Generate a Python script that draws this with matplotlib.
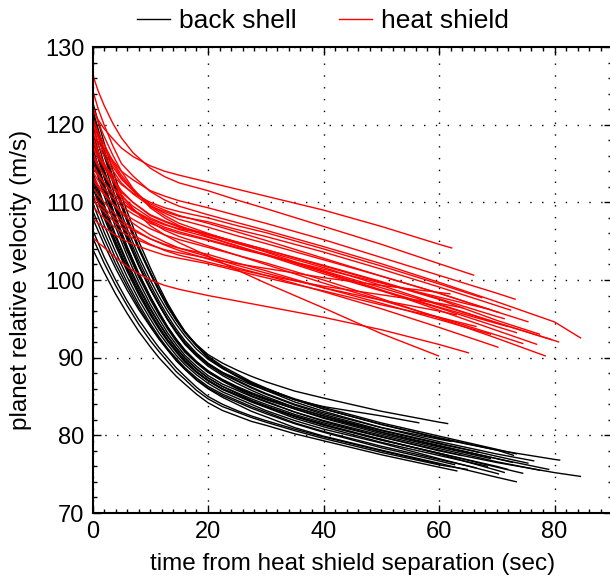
import matplotlib
matplotlib.use("Agg")
import matplotlib.pyplot as plt
from matplotlib.ticker import MultipleLocator

plt.rcParams["font.family"] = ["Liberation Sans", "DejaVu Sans"]

black_grid = [0, 2, 4, 6, 8, 10, 11.5, 13, 14.5, 16, 18, 20, 22.5, 25, 27.5, 30, 35, 40,
              50, 60, 70, 80]
red_grid = [0, 1, 2, 3.5, 5, 7, 10, 12.5, 15, 20, 25, 30, 40, 50, 60, 70, 80]

# back shell: velocities at grid times before the end, then end point
black_vel = [
    [121, 116, 111.5, 107.5, 104, 101, 98.6, 96.5, 94.8, 93.3, 91.7, 90.4, 89.3, 88.4, 87.6, 86.9, 85.7, 84.8, 83.1, 81.7],
    [118, 113.2, 109, 105.2, 101.8, 98.8, 96.8, 94.9, 93.3, 91.9, 90.4, 89.2, 88.1, 87.3, 86.5, 85.8, 84.6, 83.7, 82.5],
    [122, 116.8, 112.2, 108, 104.3, 101, 98.8, 96.8, 95, 93.3, 91.6, 90.2, 88.9, 87.9, 86.9, 86.1, 84.6, 83.4, 81.4, 79.6, 78.1, 76.9],
    [117, 112.3, 108, 104.2, 100.8, 97.8, 95.8, 93.9, 92.3, 90.9, 89.4, 88.2, 87, 86, 85.1, 84.4, 83, 81.8, 79.8, 78, 76.5, 75.2],
    [119, 114, 109.6, 105.6, 102, 98.9, 96.8, 94.9, 93.2, 91.7, 90.2, 88.9, 87.7, 86.7, 85.8, 85, 83.6, 82.5, 80.4, 78.6, 77],
    [120, 115, 110.6, 106.6, 103.1, 100, 97.9, 96, 94.3, 92.8, 91.1, 89.8, 88.6, 87.6, 86.7, 86, 84.7, 83.6, 81.6, 79.9, 78.2],
    [116, 111.5, 107.4, 103.7, 100.4, 97.5, 95.5, 93.7, 92.1, 90.7, 89.3, 88.1, 87, 86.1, 85.3, 84.6, 83.4, 82.3, 80.4, 78.7, 77],
    [113, 108.8, 105, 101.6, 98.5, 95.8, 94, 92.3, 90.9, 89.6, 88.2, 87.1, 86, 85.2, 84.4, 83.7, 82.5, 81.4, 79.4, 77.7, 75.9],
    [114, 109.7, 105.8, 102.3, 99.2, 96.4, 94.5, 92.8, 91.3, 90, 88.6, 87.4, 86.3, 85.4, 84.5, 83.8, 82.5, 81.4, 79.5, 77.6, 75.5],
    [111, 107.1, 103.6, 100.4, 97.5, 95, 93.2, 91.7, 90.3, 89.1, 87.8, 86.7, 85.6, 84.8, 84, 83.2, 81.9, 80.8, 79, 77, 75.1],
    [108, 104.6, 101.5, 98.7, 96.2, 94, 92.4, 91, 89.6, 88.5, 87.1, 86, 84.9, 84, 83.1, 82.4, 81, 79.9, 78.1, 76.4, 74.6],
    [104, 101, 98.2, 95.7, 93.4, 91.4, 90, 88.8, 87.6, 86.6, 85.3, 84.2, 83.2, 82.5, 81.8, 81.3, 80.2, 79.3, 77.5, 75.9],
    [119, 114.2, 109.9, 106, 102.5, 99.4, 97.3, 95.4, 93.7, 92.2, 90.6, 89.3, 88.1, 87.1, 86.2, 85.4, 84, 82.9, 81, 79.5],
    [106.5, 103, 100, 97.3, 94.9, 92.8, 91.3, 90, 88.7, 87.6, 86.2, 85, 84, 83.2, 82.5, 81.9, 80.8, 79.8, 78, 76.3],
    [105.5, 102.2, 99.3, 96.7, 94.3, 92.2, 90.8, 89.5, 88.2, 87.2, 85.8, 84.7, 83.7, 83, 82.3, 81.7, 80.6, 79.6, 77.8, 76.2],
    [117, 112.3, 108.1, 104.3, 100.9, 97.9, 95.9, 94, 92.4, 91, 89.5, 88.3, 87.2, 86.3, 85.5, 84.8, 83.6, 82.5, 80.6, 78.9],
    [112, 108, 104.4, 101.1, 98.1, 95.5, 93.7, 92.1, 90.7, 89.4, 88.1, 87, 85.9, 85.1, 84.3, 83.6, 82.2, 81.1, 79.1, 77.4],
    [110, 106.2, 102.8, 99.7, 96.9, 94.4, 92.7, 91.2, 89.9, 88.7, 87.4, 86.3, 85.3, 84.5, 83.7, 83, 81.6, 80.5, 78.6, 76.9],
    [121.5, 116.4, 111.8, 107.7, 104, 100.8, 98.6, 96.6, 94.8, 93.2, 91.5, 90, 88.7, 87.6, 86.6, 85.8, 84.3, 83.1, 81, 79.2, 77.6],
    [115.5, 110.9, 106.8, 103.1, 99.8, 96.9, 95, 93.2, 91.7, 90.3, 88.9, 87.7, 86.6, 85.8, 85, 84.3, 83, 81.9, 80, 78.3, 76.6],
    [113.5, 109.3, 105.5, 102, 98.9, 96.2, 94.4, 92.7, 91.2, 89.9, 88.5, 87.4, 86.3, 85.5, 84.7, 84, 82.7, 81.6, 79.8, 78.1],
    [118.5, 113.6, 109.3, 105.4, 101.9, 98.9, 96.9, 95, 93.4, 91.9, 90.4, 89.1, 87.9, 87, 86.1, 85.3, 83.9, 82.7, 80.7, 79, 77.3],
    [109, 105.4, 102.1, 99.2, 96.5, 94.1, 92.5, 91, 89.7, 88.5, 87.2, 86.1, 85.1, 84.3, 83.5, 82.8, 81.5, 80.4, 78.4, 76.7],
    [116.5, 111.8, 107.6, 103.9, 100.6, 97.7, 95.7, 93.9, 92.3, 90.9, 89.5, 88.3, 87.1, 86.2, 85.4, 84.7, 83.4, 82.2, 80.2, 78.5],
    [123, 117.7, 113, 108.8, 105, 101.6, 99.2, 97, 95.1, 93.4, 91.6, 90, 88.7, 87.7, 86.8, 86, 84.6, 83.4, 81.4, 79.7, 78.1],
    [112.5, 108.4, 104.7, 101.4, 98.4, 95.7, 93.9, 92.3, 90.9, 89.6, 88.2, 87.1, 86, 85.2, 84.4, 83.7, 82.4, 81.3, 79.4, 77.7, 76],
]
black_end_t = [61.6, 56.6, 81, 84.6, 79.1, 73.5, 72.8, 74.6, 71.4, 70.4, 73.5, 63.2, 62.2,
               60.2, 65, 67, 68.5, 66.5, 76.5, 77.5, 64, 75.5, 62.8, 69, 73, 72]
black_end_v = [81.5, 81.6, 76.8, 74.7, 75.6, 77.6, 76.5, 75.1, 75.2, 75.0, 74.0, 75.4, 79.2,
               76.2, 75.6, 77.8, 76.0, 75.8, 76.7, 75.5, 77.4, 76.4, 76.2, 77.0, 77.4, 75.6]

# heat shield
red_vel = [
    [122, 120.6, 119.5, 118.2, 117, 115.9, 114.7, 114.0, 113.5, 112.6, 111.7, 110.8, 109, 106.9, 104.6],
    [126.5, 124.3, 122.5, 120.2, 118.3, 116.4, 114.4, 113.3, 112.5, 111.5, 110.3, 109.2, 106.9, 104.6, 102.1],
    [120, 118.3, 117, 115.4, 114, 112.9, 111.5, 110.8, 110.2, 109.3, 108.3, 107.3, 105.2, 102.9, 100.6, 98.3],
    [124.5, 122, 120, 117.3, 115, 113.4, 111.4, 110.3, 109.5, 108.4, 107.4, 106.4, 104.3, 102.1, 99.7, 97.2, 94.6],
    [119, 117.3, 116, 114.1, 112.5, 111.1, 109.5, 108.8, 108.2, 107.5, 106.5, 105.6, 103.6, 101.4, 99.1, 96.7],
    [118, 116.3, 115, 113.1, 111.5, 110, 108.3, 107.5, 106.8, 105.8, 104.7, 103.7, 101.6, 99.3, 96.9, 94.5, 92.2],
    [115, 113.6, 112.5, 111.2, 110, 108.9, 107.6, 106.8, 106.2, 105.2, 104.2, 103.3, 101.2, 99, 96.8, 94.5],
    [121, 119, 117.5, 115.3, 113.5, 111.7, 109.5, 108.3, 107.3, 106, 104.8, 103.6, 101.1, 98.7, 96.1, 93.5],
    [113, 111.9, 111, 109.8, 108.8, 107.8, 106.6, 105.8, 105.2, 104.2, 103.2, 102.2, 100, 97.6, 95.1, 92.5],
    [116.5, 114.8, 113.5, 111.9, 110.5, 109.1, 107.5, 106.4, 105.6, 104.4, 103.2, 102, 99.6, 97.4, 95.2, 92.9],
    [112, 110.9, 110, 108.8, 107.7, 106.6, 105.3, 104.5, 103.8, 102.7, 101.6, 100.6, 98.5, 96.3, 93.9, 91.4],
    [117.5, 115.8, 114.5, 112.8, 111.3, 110, 108.4, 107.6, 106.9, 105.9, 104.9, 103.9, 101.9, 99.8, 97.6, 95.3],
    [105.5, 104.8, 104.2, 103.2, 102.3, 101.2, 100, 99.3, 98.8, 98, 97.3, 96.6, 95.2, 93.6, 91.7],
    [118.5, 116.5, 115, 112.8, 111, 109.2, 107, 105.8, 104.8, 103.1, 101.3, 99.6, 96.4, 93.1],
    [114, 112.8, 111.8, 110.6, 109.5, 108.5, 107.3, 106.6, 106, 105.1, 104.1, 103.2, 101.4, 99.6, 97.8],
    [110.5, 109.5, 108.8, 107.7, 106.8, 105.8, 104.6, 103.8, 103.2, 102.3, 101.4, 100.6, 99.2, 98.1, 97],
    [113.5, 112.2, 111.2, 109.8, 108.6, 107.3, 105.8, 104.9, 104.1, 103, 101.9, 100.9, 99, 97.4, 96],
    [116, 114.6, 113.5, 112, 110.8, 109.5, 108, 107.2, 106.5, 105.5, 104.4, 103.3, 101, 98.7, 96.5, 94.4],
    [119.5, 117.8, 116.5, 114.6, 113, 111.5, 109.8, 109, 108.3, 107.3, 106.2, 105.1, 102.8, 100.5, 98.3, 95.9],
    [108, 107.3, 106.8, 106, 105.3, 104.6, 103.8, 103.2, 102.8, 102.1, 101.2, 100.3, 98.6, 96.8, 95.2],
    [111, 110, 109.3, 108.2, 107.3, 106.4, 105.3, 104.6, 104.1, 103.3, 102.2, 101.2, 99, 97, 94.9],
    [122.5, 120.3, 118.5, 116.1, 114, 111.8, 109.3, 108, 107, 105.6, 104.4, 103.2, 100.8, 98.6, 96.4, 94],
    [114.5, 113.4, 112.5, 111.2, 110, 109, 107.8, 107.1, 106.6, 105.9, 104.9, 103.9, 101.8, 99.7, 97.5, 94.8],
    [109.5, 108.7, 108, 107, 106.2, 105.4, 104.5, 103.9, 103.5, 102.8, 102.1, 101.5, 100.3, 99.3, 98.4],
    [120.5, 118.5, 117, 115, 113.2, 111.5, 109.6, 108.6, 107.8, 106.8, 105.7, 104.7, 102.6, 100.5, 98.3, 95.9],
    [117, 115.8, 114.8, 113.5, 112.3, 111.2, 110, 109.3, 108.8, 108, 107, 106.1, 104, 101.8, 99.5],
]
red_end_t = [62.3, 66.1, 73.3, 84.6, 72.5, 80.8, 79.6, 77, 78.5, 74.6, 70.3, 71.4, 65.2,
             60, 68.8, 64.2, 63.1, 72, 75.5, 66.5, 69, 73.5, 77.5, 62, 70.5, 67.5]
red_end_v = [104.1, 100.6, 97.5, 92.5, 96.1, 92.0, 92.3, 91.7, 90.2, 91.8, 91.3, 95.0, 90.6,
             90.2, 96.2, 96.4, 95.5, 94.0, 94.6, 94.0, 93.0, 93.2, 93.0, 98.2, 95.8, 97.7]

fig = plt.figure(figsize=(6.10, 5.81), dpi=100)
ax = fig.add_axes([92.5 / 610, 68 / 581, 519.8 / 610, 466 / 581])


def draw(grid, vels, end_t, end_v, color):
    for v, te, ve in zip(vels, end_t, end_v):
        t = [g for g in grid if g < te][:len(v)] + [te]
        ax.plot(t, list(v) + [ve], color=color, lw=1.0, solid_capstyle="butt",
                solid_joinstyle="round")


draw(black_grid, black_vel, black_end_t, black_end_v, "black")
draw(red_grid, red_vel, red_end_t, red_end_v, "#ff0000")

ax.set_xlim(0, 90)
ax.set_ylim(70, 130)
ax.xaxis.set_major_locator(MultipleLocator(20))
ax.xaxis.set_minor_locator(MultipleLocator(2))
ax.yaxis.set_major_locator(MultipleLocator(10))
ax.yaxis.set_minor_locator(MultipleLocator(2))
ax.tick_params(which="both", direction="in", top=True, right=True, labelsize=17, width=1)
ax.tick_params(which="major", length=6, pad=6)
ax.tick_params(which="minor", length=3)
ax.grid(True, which="major", color="black", linestyle=(0, (1, 7.5)), linewidth=1)
for s in ax.spines.values():
    s.set_linewidth(1.5)

ax.set_xlabel("time from heat shield separation (sec)", fontsize=17.5, labelpad=7)
ax.set_ylabel("planet relative velocity (m/s)", fontsize=17.5, labelpad=9)

handles = [plt.Line2D([], [], color="black", lw=1.0),
           plt.Line2D([], [], color="#ff0000", lw=1.0)]
fig.legend(handles, ["back shell", "heat shield"], loc="center",
           bbox_to_anchor=(323 / 610, 1 - 21 / 581), ncol=2, frameon=False,
           fontsize=19, handlelength=1.25, handletextpad=0.35, columnspacing=1.6)

plt.savefig("out.png", dpi=100)
plt.close()
